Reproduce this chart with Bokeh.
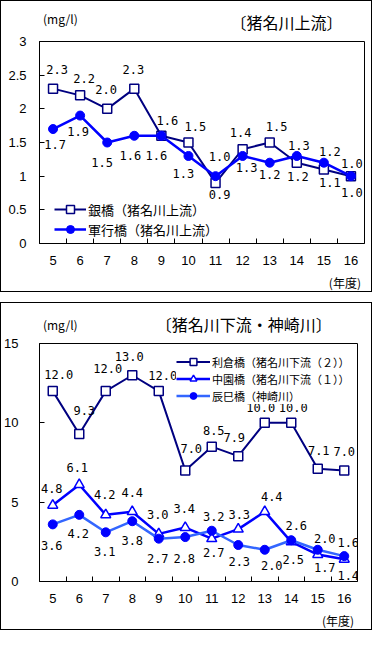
from bokeh.plotting import figure
from bokeh.models import Range1d, FixedTicker, Label, ColumnDataSource
from bokeh.layouts import column
from bokeh.embed import file_html
from bokeh.resources import INLINE
from bokeh.core.properties import value

# ---------------- data ----------------
years = ["5", "6", "7", "8", "9", "10", "11", "12", "13", "14", "15", "16"]

ginbashi = [2.3, 2.2, 2.0, 2.3, 1.6, 1.5, 0.9, 1.4, 1.5, 1.2, 1.1, 1.0]
gungyo = [1.7, 1.9, 1.5, 1.6, 1.6, 1.3, 1.0, 1.3, 1.2, 1.3, 1.2, 1.0]

tokura = [12.0, 9.3, 12.0, 13.0, 12.0, 7.0, 8.5, 7.9, 10.0, 10.0, 7.1, 7.0]
nakazono = [4.8, 6.1, 4.2, 4.4, 3.0, 3.4, 2.7, 3.3, 4.4, 2.5, 1.7, 1.4]
tatsumi = [3.6, 4.2, 3.1, 3.8, 2.7, 2.8, 3.2, 2.3, 2.0, 2.6, 2.0, 1.6]

top_y_ticks = [0, 0.5, 1, 1.5, 2, 2.5, 3]
top_y_labels = ["0", "0.5", "1", "1.5", "2", "2.5", "3"]
bot_y_ticks = [0, 5, 10, 15]
bot_y_labels = ["0", "5", "10", "15"]

top_title = "〔猪名川上流〕"
bot_title = "〔猪名川下流・神崎川〕"
unit_text = "(mg/l)"
year_text = "(年度)"
name_gin = "銀橋（猪名川上流）"
name_gun = "軍行橋（猪名川上流）"
name_tok = "利倉橋（猪名川下流（２））"
name_nak = "中園橋（猪名川下流（１））"
name_tat = "辰巳橋（神崎川）"

# ---------------- label nudges (screen px) ----------------
off_gin = [(4, -19), (4, -17), (-1, -19), (-1, -19), (6, -15), (7, -16), (4, 12), (-2, -17), (7, -16), (1, 14), (6, 13), (1, 16)]
off_gun = [(2, 15), (-2, 16), (-5, 20), (-4, 20), (-5, 20), (-5, 18), (4, -20), (4, 12), (0, 12), (2, -10), (6, -11), (1, -13)]
off_tok = [(6, -17), (5, -23), (2, -23), (-3, -19), (4, -16), (6, -22), (2, -16), (-4, -19), (-4, -15), (2, -15), (1, -18), (0, -19)]
off_nak = [(-1, -17), (-2, -17), (-1, -20), (0, -19), (-1, -19), (-1, -19), (2, 14), (1, -15), (7, -15), (2, 18), (7, 13), (4, 16)]
off_tat = [(-1, 21), (-1, 19), (-1, 19), (0, 19), (-1, 20), (-1, 21), (2, -14), (1, 16), (7, 16), (5, -15), (7, -11), (4, -14)]

NAVY = "#000080"
BLUE = "#0000FF"
LIGHT = "#3366FF"
JP = "Noto Sans CJK JP"
NUM = "DejaVu Sans Mono"
TICK = "Liberation Sans"

xs = [i + 0.5 for i in range(len(years))]
bounds = [i for i in range(1, len(years))]


def text_strip(W, H):
    """A blank strip whose frame is the whole canvas; y counts down from its top."""
    s = figure(width=W, height=H, output_backend="svg", toolbar_location=None,
               x_range=Range1d(0, W), y_range=Range1d(H, 0),
               x_axis_location=None, y_axis_location=None, min_border=0)
    s.outline_line_color = None
    s.background_fill_color = "white"
    s.border_fill_color = "white"
    s.grid.visible = False
    return s


def strip_label(s, x, y, text, size, align):
    s.add_layout(Label(x=x, y=y, text=text, text_font=JP, text_font_size=size,
                       text_align=align, text_baseline="middle", text_color="black"))


def make_fig(W, H, FL, FR, FT, FB, yr, yticks, ylabels, ystandoff):
    p = figure(width=W, height=H, output_backend="svg", toolbar_location=None,
               x_range=Range1d(0, len(years)), y_range=Range1d(*yr),
               min_border_left=FL, min_border_right=FR, min_border_top=FT, min_border_bottom=FB)
    p.background_fill_color = "white"
    p.border_fill_color = "white"
    p.outline_line_color = "black"
    p.outline_line_width = 1
    p.grid.visible = False
    xa = p.xaxis[0]
    xa.ticker = FixedTicker(ticks=xs, minor_ticks=bounds)
    xa.major_label_overrides = {x: y for x, y in zip(xs, years)}
    xa.major_tick_in = 0
    xa.major_tick_out = 0
    xa.minor_tick_in = 5
    xa.minor_tick_out = 0
    xa.minor_tick_line_color = "black"
    xa.axis_line_color = "black"
    xa.major_label_standoff = 12
    xa.major_label_text_font = TICK
    xa.major_label_text_font_size = "13px"
    xa.major_label_text_color = "black"
    ya = p.yaxis[0]
    ya.ticker = FixedTicker(ticks=yticks, minor_ticks=[])
    ya.major_label_overrides = {t: l for t, l in zip(yticks, ylabels)}
    ya.major_tick_in = 5
    ya.major_tick_out = 0
    ya.major_tick_line_color = "black"
    ya.axis_line_color = "black"
    ya.major_label_standoff = ystandoff
    ya.major_label_text_font = TICK
    ya.major_label_text_font_size = "13px"
    ya.major_label_text_color = "black"
    return p


def add_labels(p, vals, offs):
    src = ColumnDataSource(dict(x=xs, y=vals, t=[f"{v:.1f}" for v in vals],
                                dx=[o[0] for o in offs], dy=[o[1] for o in offs]))
    p.text("x", "y", text="t", x_offset="dx", y_offset="dy", source=src,
           text_font=value(NUM), text_font_size="12px", text_color="black",
           text_align="center", text_baseline="middle")


W = 370

# ---------------- top chart ----------------
HH1, HC1, HF1 = 32, 239, 19
FL1, FR1, FT1, FB1 = 38, 7, 8, 29
h1 = text_strip(W, HH1)
strip_label(h1, 4, 17, unit_text, "12px", "left")
strip_label(h1, W - 25, 20, top_title, "16px", "right")

p1 = make_fig(W, HC1, FL1, FR1, FT1, FB1, (0, 3), top_y_ticks, top_y_labels, 13)
p1.line(xs, ginbashi, line_color=NAVY, line_width=2, legend_label=name_gin)
p1.scatter(xs, ginbashi, marker="square", size=9, fill_color="white", line_color=NAVY,
           line_width=1.5, legend_label=name_gin)
p1.line(xs, gungyo, line_color=BLUE, line_width=2.5, legend_label=name_gun)
p1.scatter(xs, gungyo, marker="circle", size=9, fill_color=BLUE, line_color=BLUE,
           legend_label=name_gun)
add_labels(p1, ginbashi, off_gin)
add_labels(p1, gungyo, off_gun)

lg = p1.legend[0]
lg.location = (15, 4)
lg.padding = 0
lg.margin = 0
lg.spacing = 0
lg.label_height = 20
lg.glyph_height = 20
lg.glyph_width = 32
lg.label_standoff = 2
lg.background_fill_alpha = 0
lg.border_line_color = None
lg.label_text_font = JP
lg.label_text_font_size = "13px"
lg.label_text_color = "black"

f1 = text_strip(W, HF1)
strip_label(f1, W - 4, 10, year_text, "12px", "right")

box1 = column(h1, p1, f1, spacing=0, styles={"border": "1px solid black"})

# ---------------- bottom chart ----------------
HH2, HC2, HF2 = 32, 275, 19
FL2, FR2, FT2, FB2 = 36, 14, 8, 29
h2 = text_strip(W, HH2)
strip_label(h2, 4, 21, unit_text, "12px", "left")
strip_label(h2, W - 30, 20, bot_title, "16px", "right")

p2 = make_fig(W, HC2, FL2, FR2, FT2, FB2, (0, 15), bot_y_ticks, bot_y_labels, 21)
p2.line(xs, tokura, line_color=NAVY, line_width=2, legend_label=name_tok)
p2.scatter(xs, tokura, marker="square", size=9, fill_color="white", line_color=NAVY,
           line_width=1.5, legend_label=name_tok)
p2.line(xs, nakazono, line_color=BLUE, line_width=2.5, legend_label=name_nak)
p2.scatter(xs, nakazono, marker="triangle", size=10, fill_color="white", line_color=BLUE,
           line_width=1.5, legend_label=name_nak)
p2.line(xs, tatsumi, line_color=LIGHT, line_width=2.5, legend_label=name_tat)
p2.scatter(xs, tatsumi, marker="circle", size=9, fill_color=BLUE, line_color=BLUE,
           legend_label=name_tat)
add_labels(p2, tokura, off_tok)
add_labels(p2, nakazono, off_nak)
add_labels(p2, tatsumi, off_tat)

FH2 = HC2 - FT2 - FB2
lg2 = p2.legend[0]
lg2.padding = 3
lg2.margin = 0
lg2.spacing = 0
lg2.label_height = 17
lg2.glyph_height = 17
lg2.glyph_width = 34
lg2.label_standoff = 2
lg2.location = (137, FH2 - 61)
lg2.background_fill_color = "white"
lg2.background_fill_alpha = 1
lg2.border_line_color = None
lg2.label_text_font = JP
lg2.label_text_font_size = "11px"
lg2.label_text_color = "black"

f2 = text_strip(W, HF2)
strip_label(f2, W - 4, 10, year_text, "12px", "right")

box2 = column(h2, p2, f2, spacing=0, styles={"border": "1px solid black"})

layout = column(box1, box2, spacing=10)
open("out.html", "w").write(file_html(layout, INLINE))
